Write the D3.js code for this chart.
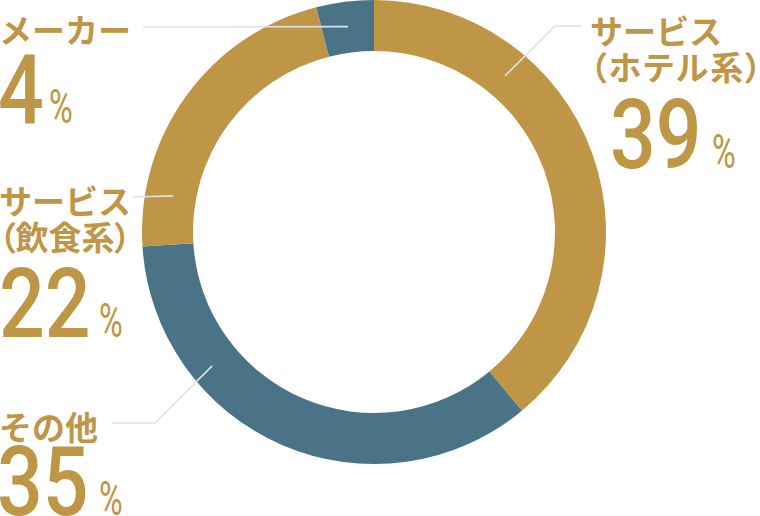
<!DOCTYPE html>
<html>
<head>
<meta charset="utf-8">
<script src="https://cdn.jsdelivr.net/npm/d3@7"></script>
<style>
  html, body { margin: 0; padding: 0; background: #fff; }
  svg { display: block; }
  .jp { font-family: "Noto Sans CJK JP", sans-serif; font-weight: 700; font-size: 33px; }
  .num { font-family: Roboto, sans-serif; font-weight: 500; font-size: 96px; }
  .pct { font-family: Roboto, sans-serif; font-weight: 400; font-size: 49px; }
</style>
</head>
<body>
<svg id="chart" width="760" height="516"></svg>
<script>
// data, clockwise from 12 o'clock
var categories = ["サービス（ホテル系）", "その他", "サービス（飲食系）", "メーカー"];
var values = [39, 35, 22, 4];
var labelLines = [["サービス", "（ホテル系）"], ["その他"], ["サービス", "（飲食系）"], ["メーカー"]];

var gold = "#bf9546", blue = "#4b7388", leaderColor = "#dde4e8";
var fills = [gold, blue, gold, blue];

// label layout: text origin, number origin, % x, leader (angle on ring in deg + elbow points)
var layout = [
  { tx: 590, ty: [44, 80], ls: [0, 2], nx: 610, ny: 168, px: 712, ang: 40, r: 204, leader: [[555, 26], [582, 26]] },
  { tx: -1, ty: [440], ls: [0], nx: -3, ny: 515, px: 99, ang: 230.4, r: 210, leader: [[155, 423], [112, 423]] },
  { tx: -1, ty: [214, 250], ls: [0, 0], nx: -1, ny: 337, px: 99, ang: 280.2, r: 204, leader: [[133, 197]] },
  { tx: -1, ty: [43], ls: [0], nx: -2, ny: 123, px: 49, ang: 352.8, r: 207, leader: [[143, 27]] }
];

var cx = 374, cy = 232, outerR = 232, innerR = 181;
var svg = d3.select("#chart");

var pie = d3.pie().sort(null).value(function(d) { return d; });
var arc = d3.arc().innerRadius(innerR).outerRadius(outerR);

var ring = svg.append("g").attr("transform", "translate(" + cx + "," + cy + ")");
ring.selectAll("path")
  .data(pie(values))
  .enter().append("path")
  .attr("d", arc)
  .attr("fill", function(d, i) { return fills[i]; });

// leader lines
var line = d3.line();
layout.forEach(function(l, i) {
  var a = l.ang * Math.PI / 180;
  var start = [cx + l.r * Math.sin(a), cy - l.r * Math.cos(a)];
  svg.append("path")
    .attr("d", line([start].concat(l.leader)))
    .attr("fill", "none")
    .attr("stroke", leaderColor)
    .attr("stroke-width", 1.6);
});

// labels
layout.forEach(function(l, i) {
  var g = svg.append("g");
  labelLines[i].forEach(function(t, j) {
    var paren = t.charAt(0) == "（";
    g.append("text")
      .attr("class", "jp")
      .attr("x", l.tx)
      .attr("y", l.ty[j])
      .attr("fill", gold)
      .style("letter-spacing", l.ls[j] + "px")
      .style("font-feature-settings", paren ? "'palt'" : "normal")
      .text(t);
  });
  g.append("text")
    .attr("class", "num")
    .attr("transform", "translate(" + l.nx + "," + l.ny + ") scale(0.84,1)")
    .attr("fill", gold)
    .text(values[i]);
  g.append("text")
    .attr("class", "pct")
    .attr("transform", "translate(" + l.px + "," + l.ny + ") scale(0.66,1)")
    .attr("fill", gold)
    .text("%");
});
</script>
</body>
</html>
